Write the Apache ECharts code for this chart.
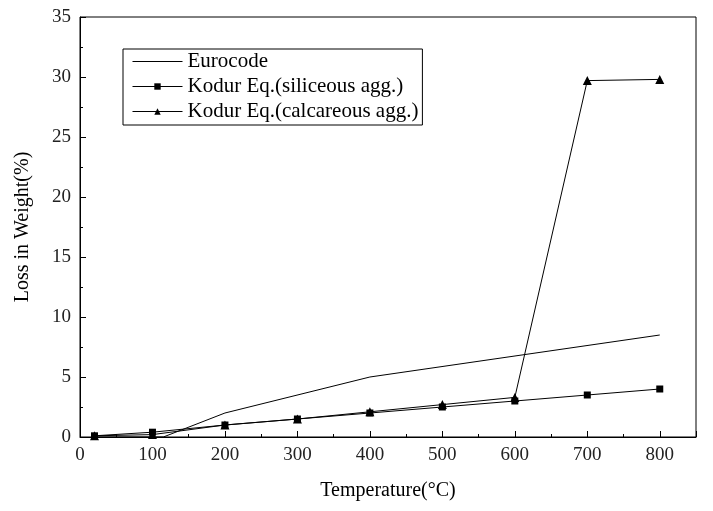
<!DOCTYPE html>
<html><head><meta charset="utf-8">
<script src="https://cdn.jsdelivr.net/npm/echarts@6/dist/echarts.min.js"></script>
<style>html,body{margin:0;padding:0;background:#fff}#c{width:713px;height:511px}</style>
</head><body><div id="c"></div>
<script>
const euroT = [20, 115, 200, 400, 800];
const euroV = [0, 0, 2, 5, 8.5];
const kodurT = [20, 100, 200, 300, 400, 500, 600, 700, 800];
const silV = [0.1, 0.4, 1.0, 1.5, 2.0, 2.5, 3.0, 3.5, 4.0];
const calV = [0.1, 0.2, 1.0, 1.5, 2.1, 2.7, 3.3, 29.7, 29.8];
const names = ['Eurocode', 'Kodur Eq.(siliceous agg.)', 'Kodur Eq.(calcareous agg.)'];

const pair = (t, v) => t.map((x, i) => [x, v[i]]);
const font = 'Liberation Serif';
const chart = echarts.init(document.getElementById('c'));
chart.setOption({
  animation: false,
  backgroundColor: '#fff',
  grid: { left: 80, right: 17, top: 17, bottom: 74, show: true, borderColor: '#000', borderWidth: 1 },
  legend: {
    orient: 'vertical', left: 123, top: 49, padding: [2, 4, 3, 9],
    borderColor: '#000', borderWidth: 1, itemWidth: 50, itemHeight: 8, itemGap: 4,
    lineStyle: { width: 1 },
    textStyle: { fontFamily: font, fontSize: 21, color: '#000' },
    data: [{ name: names[0], itemStyle: { color: 'rgba(0,0,0,0)', borderWidth: 0 } }, names[1], names[2]]
  },
  xAxis: {
    type: 'value', min: 0, max: 850, interval: 100,
    name: 'Temperature(°C)', nameLocation: 'middle', nameGap: 44,
    nameTextStyle: { fontFamily: font, fontSize: 20, color: '#000' },
    axisLine: { lineStyle: { color: '#000' } },
    axisTick: { inside: true, length: 6, lineStyle: { color: '#000' } },
    minorTick: { show: true, splitNumber: 2, length: 3, lineStyle: { color: '#000' } },
    axisLabel: { fontFamily: font, fontSize: 19, color: '#222', margin: 9, showMaxLabel: false },
    splitLine: { show: false }
  },
  yAxis: {
    type: 'value', min: 0, max: 35, interval: 5,
    name: 'Loss in Weight(%)', nameLocation: 'middle', nameGap: 47,
    nameTextStyle: { fontFamily: font, fontSize: 20, color: '#000' },
    axisLine: { lineStyle: { color: '#000' } },
    axisTick: { inside: true, length: 6, lineStyle: { color: '#000' } },
    minorTick: { show: true, splitNumber: 2, length: 3, lineStyle: { color: '#000' } },
    axisLabel: { fontFamily: font, fontSize: 19, color: '#222', margin: 9 },
    splitLine: { show: false }
  },
  series: [
    { name: names[0], type: 'line', data: pair(euroT, euroV), showSymbol: false, symbol: 'none',
      lineStyle: { color: '#000', width: 1 }, itemStyle: { color: '#000' } },
    { name: names[1], type: 'line', data: pair(kodurT, silV), symbol: 'rect', symbolSize: 7,
      lineStyle: { color: '#000', width: 1 }, itemStyle: { color: '#000' } },
    { name: names[2], type: 'line', data: pair(kodurT, calV), symbol: 'triangle', symbolSize: 9,
      lineStyle: { color: '#000', width: 1 }, itemStyle: { color: '#000' } }
  ]
});
</script></body></html>
